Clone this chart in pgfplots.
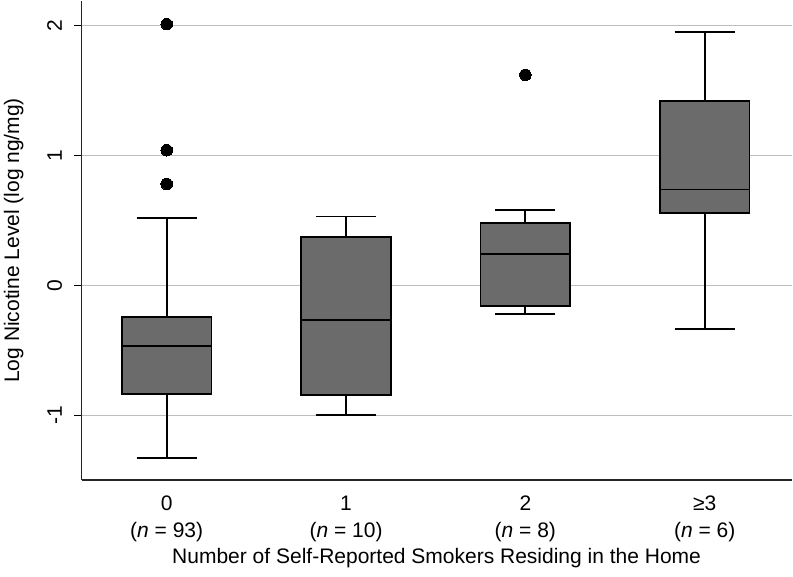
\documentclass[border=0pt]{standalone}
\usepackage{fontspec}
\setmainfont{Liberation Sans}
\usepackage{pgfplots}
\pgfplotsset{compat=1.18}
\usepgfplotslibrary{statistics}
\definecolor{boxgray}{HTML}{6B6B6B}
\definecolor{gridgray}{HTML}{BDBDBD}
\begin{document}
\begin{tikzpicture}
\begin{axis}[
  scale only axis, width=709.8bp, height=479.3bp,
  xmin=-0.474, xmax=3.484, ymin=-1.498, ymax=2.19,
  axis x line*=bottom, axis y line*=left,
  axis line style={black!85, line width=1.5bp},
  ytick={-1,0,1,2}, yticklabels={-1,0,1,2},
  xtick={0,1,2,3},
  xticklabels={{0\\(\textit{n} = 93)},{1\\(\textit{n} = 10)},{2\\(\textit{n} = 8)},{≥3\\(\textit{n} = 6)}},
  ymajorgrids, grid style={gridgray, line width=1.4bp},
  tick align=outside, major tick length=7.5bp,
  ytick style={black, line width=1.4bp},
  xtick style={draw=none},
  every tick label/.append style={font=\fontsize{21bp}{27bp}\selectfont},
  yticklabel style={rotate=90, anchor=south, inner sep=0pt, yshift=12bp},
  xticklabel style={align=center, anchor=north, inner sep=0pt, yshift=-8.5bp},
  label style={font=\fontsize{21bp}{25bp}\selectfont},
  ylabel={Log Nicotine Level (log ng/mg)},
  ylabel style={at={(axis description cs:0,0.5)}, anchor=center, yshift=68bp},
  xlabel={Number of Self-Reported Smokers Residing in the Home},
  xlabel style={at={(axis description cs:0.5,0)}, anchor=north, inner sep=0pt, yshift=-67.7bp},
  boxplot/draw direction=y,
  boxplot/box extend=0.5, boxplot/whisker extend=0.335,
  every axis plot/.append style={draw=black, fill=boxgray, line width=1.9bp,
    mark=*, mark size=5.8bp, mark options={fill=black, draw=black, line width=0pt}},
]
\addplot[boxplot prepared={draw position=0, lower whisker=-1.328, lower quartile=-0.838,
  median=-0.47, upper quartile=-0.246, upper whisker=0.52}]
  table[row sep=\\, y index=0] {v\\2.01\\1.04\\0.78\\};
\addplot[boxplot prepared={draw position=1, lower whisker=-1.0, lower quartile=-0.841,
  median=-0.264, upper quartile=0.372, upper whisker=0.53}]
  coordinates {};
\addplot[boxplot prepared={draw position=2, lower whisker=-0.223, lower quartile=-0.159,
  median=0.241, upper quartile=0.479, upper whisker=0.582}]
  table[row sep=\\, y index=0] {v\\1.62\\};
\addplot[boxplot prepared={draw position=3, lower whisker=-0.338, lower quartile=0.559,
  median=0.738, upper quartile=1.418, upper whisker=1.95}]
  coordinates {};
\end{axis}
\path ([xshift=-81.7bp,yshift=-96.7bp]current axis.south west) rectangle ([xshift=1.5bp]current axis.north east);
\end{tikzpicture}
\end{document}
